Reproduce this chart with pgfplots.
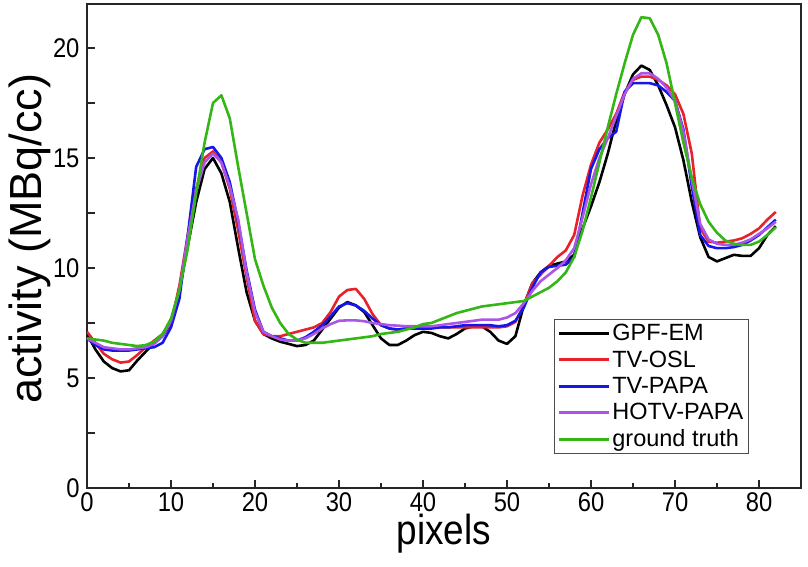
\documentclass[border=0pt]{standalone}
\usepackage{fontspec}
\setmainfont{Liberation Sans}
\newfontfamily\narrowfont[FakeStretch=0.88]{Liberation Sans}
\usepackage{pgfplots}
\pgfplotsset{compat=1.18}
\definecolor{cred}{RGB}{232,34,40}
\definecolor{cblue}{RGB}{22,22,232}
\definecolor{cpurple}{RGB}{170,84,232}
\definecolor{cgreen}{RGB}{52,182,22}
\begin{document}
\begin{tikzpicture}
\begin{axis}[name=ax, scale only axis, width=714pt, height=484pt,
  xmin=0, xmax=85, ymin=0, ymax=22,
  axis line style={line width=1.5pt, draw=black!85},
  tick align=inside,
  xtick={0,10,...,80}, minor xtick={5,15,25,35,45,55,65,75},
  ytick={0,2.5,...,20}, yticklabels={0,,5,,10,,15,,20},
  tick style={line width=1.2pt, black!85},
  major tick length=8pt, minor tick length=5pt,
  xtick pos=bottom, ytick pos=left,
  /pgf/number format/assume math mode=true,
  tick label style={font=\narrowfont\fontsize{27}{27}\selectfont},
  xticklabel style={inner sep=1pt, yshift=-3pt},
  yticklabel style={xshift=-4pt},
  xlabel={pixels}, ylabel={activity (MBq/cc)},
  xlabel style={font=\narrowfont\fontsize{42}{42}\selectfont, inner sep=0pt, at={(axis description cs:0.5,-0.117)}, anchor=base},
  ylabel style={font=\fontsize{45}{45}\selectfont, at={(axis description cs:-0.08,0.515)}, anchor=center},
  legend cell align=left,
  legend style={at={(0.654,0.349)}, anchor=north west, draw=black!70, line width=0.8pt,
    font=\fontsize{23.5}{27.5}\selectfont, inner sep=3pt, row sep=4.5pt},
  legend image code/.code={\draw[#1, line width=3pt] (0pt,0pt) -- (50pt,0pt);},
  every axis plot/.append style={line width=2.6pt, line join=round},
]
\addplot[black] coordinates {
(0,7.0)(1,6.3)(2,5.75)(3,5.45)(4,5.3)(5,5.35)(6,5.8)(7,6.2)(8,6.6)(9,6.9)
(10,7.5)(11,9.0)(12,11.0)(13,13.0)(14,14.5)(15,15.0)(16,14.3)(17,13.0)(18,10.9)(19,8.9)
(20,7.6)(21,7.0)(22,6.8)(23,6.65)(24,6.55)(25,6.45)(26,6.5)(27,6.7)(28,7.2)(29,7.7)
(30,8.2)(31,8.45)(32,8.3)(33,8.0)(34,7.4)(35,6.8)(36,6.5)(37,6.5)(38,6.7)(39,6.95)
(40,7.1)(41,7.05)(42,6.9)(43,6.8)(44,7.0)(45,7.25)(46,7.35)(47,7.35)(48,7.1)(49,6.7)
(50,6.55)(51,6.9)(52,8.3)(53,9.3)(54,9.8)(55,10.1)(56,10.2)(57,10.3)(58,10.6)(59,11.8)
(60,12.8)(61,13.9)(62,15.2)(63,16.7)(64,17.9)(65,18.8)(66,19.2)(67,19.0)(68,18.3)(69,17.4)
(70,16.4)(71,14.9)(72,13.0)(73,11.4)(74,10.5)(75,10.3)(76,10.45)(77,10.6)(78,10.55)(79,10.55)
(80,10.9)(81,11.5)(82,11.9)};
\addlegendentry{GPF-EM}
\addplot[cred] coordinates {
(0,7.1)(1,6.6)(2,6.1)(3,5.85)(4,5.7)(5,5.75)(6,6.05)(7,6.4)(8,6.7)(9,7.0)
(10,7.5)(11,9.2)(12,11.5)(13,13.6)(14,15.0)(15,15.3)(16,14.8)(17,13.6)(18,11.7)(19,9.6)
(20,7.6)(21,7.0)(22,6.9)(23,6.9)(24,7.0)(25,7.1)(26,7.2)(27,7.3)(28,7.5)(29,8.0)
(30,8.7)(31,9.0)(32,9.05)(33,8.6)(34,7.9)(35,7.4)(36,7.25)(37,7.2)(38,7.25)(39,7.3)
(40,7.3)(41,7.3)(42,7.3)(43,7.3)(44,7.3)(45,7.3)(46,7.3)(47,7.3)(48,7.3)(49,7.3)
(50,7.35)(51,7.55)(52,8.3)(53,9.3)(54,9.7)(55,10.1)(56,10.5)(57,10.8)(58,11.5)(59,13.3)
(60,14.7)(61,15.7)(62,16.3)(63,17.0)(64,18.0)(65,18.55)(66,18.7)(67,18.7)(68,18.55)(69,18.3)
(70,17.9)(71,17.0)(72,15.2)(73,11.8)(74,11.2)(75,11.15)(76,11.2)(77,11.25)(78,11.35)(79,11.55)
(80,11.8)(81,12.2)(82,12.55)};
\addlegendentry{TV-OSL}
\addplot[cblue] coordinates {
(0,6.8)(1,6.5)(2,6.3)(3,6.25)(4,6.25)(5,6.25)(6,6.3)(7,6.35)(8,6.4)(9,6.6)
(10,7.3)(11,8.6)(12,11.5)(13,14.6)(14,15.4)(15,15.5)(16,15.0)(17,13.9)(18,12.1)(19,9.9)
(20,8.1)(21,7.1)(22,6.9)(23,6.8)(24,6.7)(25,6.7)(26,6.85)(27,7.1)(28,7.4)(29,7.8)
(30,8.25)(31,8.4)(32,8.3)(33,8.05)(34,7.7)(35,7.4)(36,7.25)(37,7.2)(38,7.25)(39,7.25)
(40,7.25)(41,7.25)(42,7.3)(43,7.3)(44,7.35)(45,7.4)(46,7.4)(47,7.4)(48,7.4)(49,7.35)
(50,7.4)(51,7.6)(52,8.2)(53,9.1)(54,9.8)(55,10.05)(56,10.1)(57,10.15)(58,10.5)(59,12.5)
(60,14.5)(61,15.4)(62,15.9)(63,16.2)(64,18.0)(65,18.4)(66,18.4)(67,18.4)(68,18.3)(69,18.0)
(70,17.6)(71,16.3)(72,13.7)(73,11.5)(74,11.0)(75,10.9)(76,10.9)(77,10.95)(78,11.05)(79,11.25)
(80,11.5)(81,11.85)(82,12.2)};
\addlegendentry{TV-PAPA}
\addplot[cpurple] coordinates {
(0,6.8)(1,6.6)(2,6.4)(3,6.35)(4,6.3)(5,6.3)(6,6.35)(7,6.4)(8,6.55)(9,6.9)
(10,7.6)(11,9.0)(12,11.4)(13,13.5)(14,14.8)(15,15.2)(16,14.8)(17,13.7)(18,12.2)(19,9.8)
(20,8.0)(21,7.1)(22,6.9)(23,6.75)(24,6.7)(25,6.7)(26,6.8)(27,7.0)(28,7.25)(29,7.45)
(30,7.6)(31,7.62)(32,7.62)(33,7.58)(34,7.5)(35,7.45)(36,7.4)(37,7.38)(38,7.35)(39,7.35)
(40,7.35)(41,7.35)(42,7.4)(43,7.45)(44,7.5)(45,7.55)(46,7.6)(47,7.65)(48,7.65)(49,7.65)
(50,7.75)(51,7.95)(52,8.4)(53,8.95)(54,9.4)(55,9.7)(56,10.0)(57,10.35)(58,10.9)(59,12.3)
(60,13.8)(61,15.0)(62,15.9)(63,16.9)(64,17.9)(65,18.6)(66,18.85)(67,18.85)(68,18.6)(69,18.2)
(70,17.6)(71,16.2)(72,14.0)(73,12.0)(74,11.3)(75,11.1)(76,11.05)(77,11.05)(78,11.15)(79,11.3)
(80,11.55)(81,11.8)(82,12.1)};
\addlegendentry{HOTV-PAPA}
\addplot[cgreen] coordinates {
(0,6.8)(1,6.75)(2,6.7)(3,6.6)(4,6.55)(5,6.5)(6,6.45)(7,6.5)(8,6.65)(9,7.0)
(10,7.7)(11,9.0)(12,10.9)(13,13.4)(14,15.7)(15,17.5)(16,17.85)(17,16.8)(18,14.6)(19,12.5)
(20,10.4)(21,9.2)(22,8.2)(23,7.5)(24,7.0)(25,6.75)(26,6.6)(27,6.6)(28,6.6)(29,6.65)
(30,6.7)(31,6.75)(32,6.8)(33,6.85)(34,6.9)(35,7.0)(36,7.05)(37,7.1)(38,7.2)(39,7.3)
(40,7.45)(41,7.5)(42,7.65)(43,7.8)(44,7.95)(45,8.05)(46,8.15)(47,8.25)(48,8.3)(49,8.35)
(50,8.4)(51,8.45)(52,8.5)(53,8.7)(54,8.9)(55,9.1)(56,9.4)(57,9.8)(58,10.5)(59,11.7)
(60,13.2)(61,14.8)(62,16.4)(63,17.9)(64,19.3)(65,20.6)(66,21.4)(67,21.35)(68,20.6)(69,19.3)
(70,17.5)(71,15.7)(72,14.1)(73,12.9)(74,12.1)(75,11.6)(76,11.25)(77,11.1)(78,11.05)(79,11.05)
(80,11.2)(81,11.5)(82,11.85)};
\addlegendentry{ground truth}
\end{axis}
\pgfresetboundingbox
\path[use as bounding box] ([xshift=-87pt,yshift=-79pt]ax.south west) rectangle ([xshift=7pt,yshift=4pt]ax.north east);
\end{tikzpicture}
\end{document}
